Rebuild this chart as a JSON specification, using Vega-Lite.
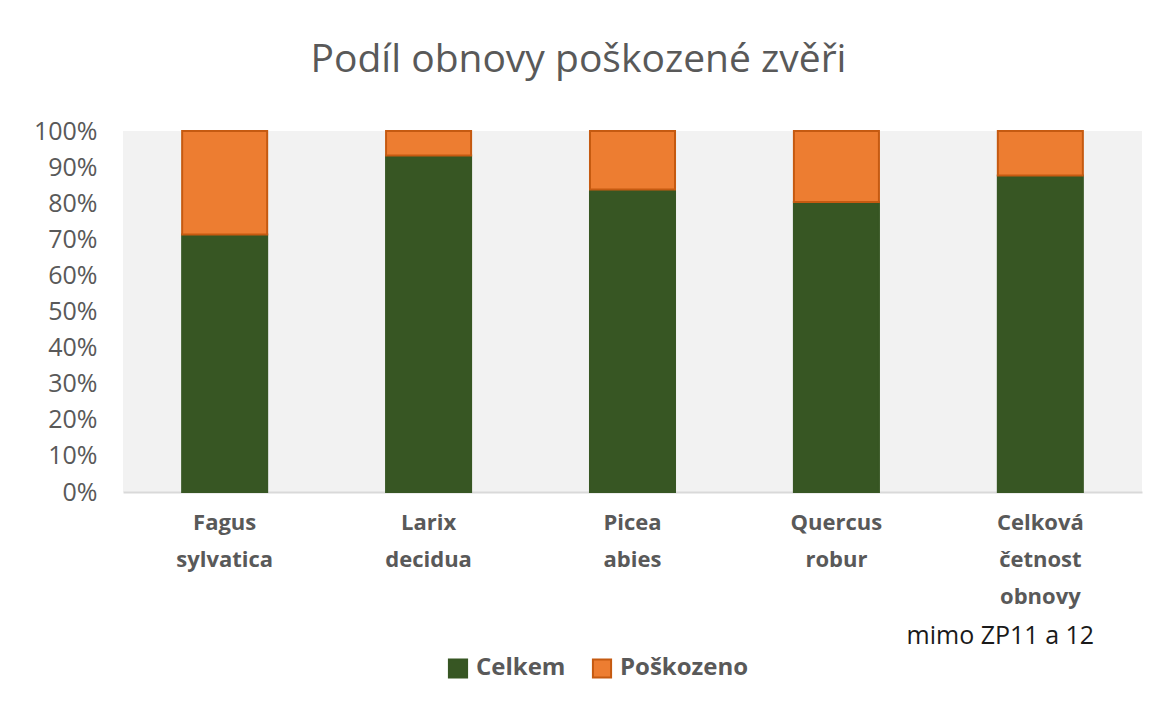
{
  "$schema": "https://vega.github.io/schema/vega-lite/v6.json",
  "autosize": "none",
  "width": 1019,
  "height": 361,
  "padding": {"left": 123, "top": 131, "right": 26, "bottom": 217},
  "background": "white",
  "title": {
    "text": "Podíl obnovy poškozené zvěři",
    "fontSize": 39,
    "font": "Open Sans",
    "fontWeight": "normal",
    "color": "#595959",
    "anchor": "middle",
    "dx": -54,
    "offset": 39
  },
  "config": {
    "font": "Open Sans",
    "view": {"fill": "#f2f2f2", "stroke": null}
  },
  "data": {
    "values": [
      {"druh": "Fagus sylvatica", "serie": "Celkem", "podil": 71.3},
      {"druh": "Fagus sylvatica", "serie": "Poškozeno", "podil": 28.7},
      {"druh": "Larix decidua", "serie": "Celkem", "podil": 93.2},
      {"druh": "Larix decidua", "serie": "Poškozeno", "podil": 6.8},
      {"druh": "Picea abies", "serie": "Celkem", "podil": 83.8},
      {"druh": "Picea abies", "serie": "Poškozeno", "podil": 16.2},
      {"druh": "Quercus robur", "serie": "Celkem", "podil": 80.3},
      {"druh": "Quercus robur", "serie": "Poškozeno", "podil": 19.7},
      {"druh": "Celková četnost obnovy mimo ZP11 a 12", "serie": "Celkem", "podil": 87.7},
      {"druh": "Celková četnost obnovy mimo ZP11 a 12", "serie": "Poškozeno", "podil": 12.3}
    ]
  },
  "resolve": {"axis": {"x": "independent"}},
  "layer": [
    {
      "mark": {"type": "bar", "strokeWidth": 2},
      "encoding": {
        "x": {
          "field": "druh",
          "type": "nominal",
          "sort": null,
          "scale": {"paddingInner": 0.583, "paddingOuter": 0.29},
          "axis": {
            "title": null,
            "orient": "bottom",
            "labelAngle": 0,
            "labelExpr": "indexof(datum.label, 'Celková') >= 0 ? ['Celková', 'četnost', 'obnovy'] : split(datum.label, ' ')",
            "labelFont": "Open Sans",
            "labelFontSize": 22,
            "labelFontWeight": "bold",
            "labelColor": "#595959",
            "labelLineHeight": 37,
            "labelPadding": 20,
            "labelBaseline": "top",
            "labelLimit": 300,
            "ticks": false,
            "domainColor": "#d9d9d9",
            "domainWidth": 2
          }
        },
        "y": {
          "field": "podil",
          "type": "quantitative",
          "stack": "normalize",
          "axis": {
            "title": null,
            "values": [0, 0.1, 0.2, 0.3, 0.4, 0.5, 0.6, 0.7, 0.8, 0.9, 1],
            "format": ".0%",
            "grid": false,
            "domain": false,
            "ticks": false,
            "labelFont": "Open Sans",
            "labelFontSize": 25,
            "labelColor": "#595959",
            "labelPadding": 26
          }
        },
        "color": {
          "field": "serie",
          "type": "nominal",
          "scale": {"domain": ["Celkem", "Poškozeno"], "range": ["#375623", "#ed7d31"]},
          "legend": {
            "title": null,
            "orient": "none",
            "direction": "horizontal",
            "legendX": 323,
            "legendY": 525,
            "symbolType": "square",
            "symbolSize": 330,
            "symbolStrokeWidth": 2,
            "labelFont": "Open Sans",
            "labelFontSize": 24,
            "labelFontWeight": "bold",
            "labelColor": "#595959",
            "columnPadding": 22,
            "labelOffset": 6
          }
        },
        "stroke": {
          "field": "serie",
          "type": "nominal",
          "scale": {"domain": ["Celkem", "Poškozeno"], "range": ["#375623", "#c55a11"]},
          "legend": null
        },
        "order": {"field": "serie", "sort": "ascending"}
      }
    },
    {
      "mark": {"type": "bar", "opacity": 0},
      "encoding": {
        "x": {
          "field": "druh",
          "type": "nominal",
          "sort": null,
          "axis": {
            "title": null,
            "orient": "bottom",
            "labelAngle": 0,
            "labelExpr": "indexof(datum.label, 'mimo') >= 0 ? 'mimo ZP11 a 12' : ''",
            "labelFont": "Open Sans",
            "labelFontSize": 25,
            "labelFontWeight": "normal",
            "labelColor": "#1a1a1a",
            "labelPadding": 131,
            "labelBaseline": "top",
            "labelLimit": 300,
            "labelOffset": -40,
            "ticks": false,
            "domain": false
          }
        }
      }
    }
  ]
}
